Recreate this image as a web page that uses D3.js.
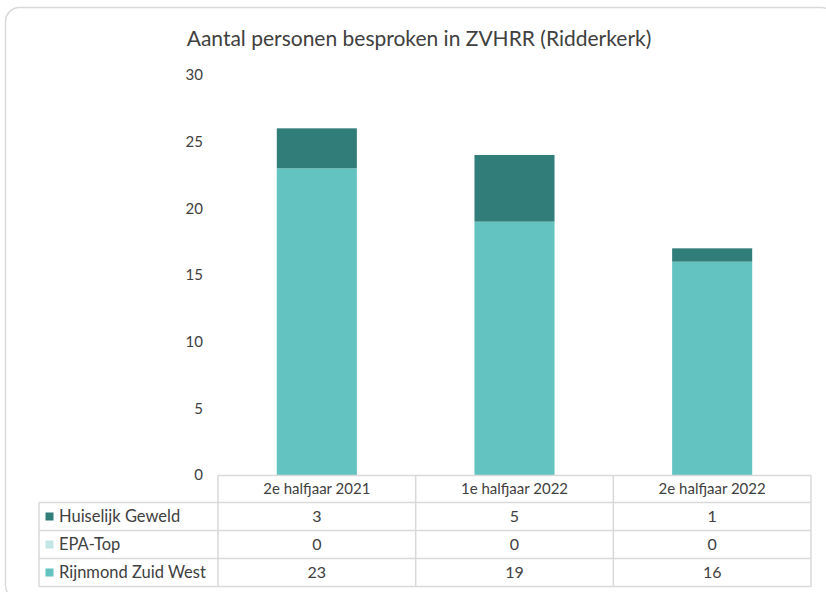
<!DOCTYPE html>
<html>
<head>
<meta charset="utf-8">
<script src="https://cdn.jsdelivr.net/npm/d3@7"></script>
<style>
  body { margin: 0; background: #fff; }
  text { font-family: Lato, "Open Sans", sans-serif; fill: #404040; }
</style>
</head>
<body>
<div id="chart"></div>
<script>
var categories = ["2e halfjaar 2021", "1e halfjaar 2022", "2e halfjaar 2022"]
var seriesNames = ["Huiselijk Geweld", "EPA-Top", "Rijnmond Zuid West"]
var huiselijkGeweld = [3, 5, 1]
var epaTop = [0, 0, 0]
var rijnmondZuidWest = [23, 19, 16]
var yTicks = [0, 5, 10, 15, 20, 25, 30]

var colors = {
  "Huiselijk Geweld": "#317d7a",
  "EPA-Top": "#c3e7e6",
  "Rijnmond Zuid West": "#63c3c0"
}

var w = 826
var h = 592
var margin = {top: 75, left: 218, right: 15}
var plotBottom = 475
var labelLeft = 39
var headerH = 27
var rowH = 28

// table of rows built from the arrays
var data = categories.map(function(c, i) {
  return {
    cat: c,
    "Rijnmond Zuid West": rijnmondZuidWest[i],
    "EPA-Top": epaTop[i],
    "Huiselijk Geweld": huiselijkGeweld[i]
  }
})

var stack = d3.stack().keys(["Rijnmond Zuid West", "EPA-Top", "Huiselijk Geweld"])
var series = stack(data)

var xScale = d3.scaleBand().domain(categories).range([margin.left, 811])
var yScale = d3.scaleLinear().domain([0, 30]).range([plotBottom, plotBottom - 400])
var barW = xScale.bandwidth() * 0.405

var svg = d3.select("#chart").append("svg")
  .attr("width", w)
  .attr("height", h)

svg.append("rect")
  .attr("x", 5.5)
  .attr("y", 7.5)
  .attr("width", 830)
  .attr("height", 592)
  .attr("rx", 14)
  .attr("fill", "#fff")
  .attr("stroke", "#d9d9d9")
  .attr("stroke-width", 1.5)

svg.append("text")
  .attr("x", 419)
  .attr("y", 46)
  .attr("text-anchor", "middle")
  .style("font-size", "21px")
  .text("Aantal personen besproken in ZVHRR (Ridderkerk)")

// y axis labels, no line
var yAxis = d3.axisLeft(yScale).tickValues(yTicks).tickSize(0).tickPadding(0)
var yg = svg.append("g")
  .attr("transform", "translate(203,0)")
  .call(yAxis)
yg.select(".domain").remove()
yg.selectAll("text")
  .attr("fill", "#404040")
  .style("font-size", "15px")
  .style("font-family", "Lato, sans-serif")

// bars
svg.append("g").selectAll("g")
  .data(series)
  .join("g")
  .attr("fill", d => colors[d.key])
  .selectAll("rect")
  .data(d => d)
  .join("rect")
  .attr("x", d => xScale(d.data.cat) + (xScale.bandwidth() - barW) / 2)
  .attr("y", d => yScale(d[1]))
  .attr("width", barW)
  .attr("height", d => yScale(d[0]) - yScale(d[1]))

// data table
var table = svg.append("g")
var lineColor = "#d9d9d9"
var tableTop = plotBottom + 0.5
var rowsTop = tableTop + headerH
var tableBottom = rowsTop + rowH * seriesNames.length

// horizontal lines
table.append("line")
  .attr("x1", margin.left).attr("x2", 811)
  .attr("y1", tableTop).attr("y2", tableTop)
  .attr("stroke", lineColor).attr("stroke-width", 1.5)
seriesNames.concat([null]).forEach(function(s, i) {
  var y = rowsTop + i * rowH
  table.append("line")
    .attr("x1", labelLeft).attr("x2", 811)
    .attr("y1", y).attr("y2", y)
    .attr("stroke", lineColor).attr("stroke-width", 1.5)
})

// vertical lines
table.append("line")
  .attr("x1", labelLeft).attr("x2", labelLeft)
  .attr("y1", rowsTop).attr("y2", tableBottom)
  .attr("stroke", lineColor).attr("stroke-width", 1.5)
categories.forEach(function(c) {
  table.append("line")
    .attr("x1", xScale(c)).attr("x2", xScale(c))
    .attr("y1", tableTop).attr("y2", tableBottom)
    .attr("stroke", lineColor).attr("stroke-width", 1.5)
})
table.append("line")
  .attr("x1", 811).attr("x2", 811)
  .attr("y1", tableTop).attr("y2", tableBottom)
  .attr("stroke", lineColor).attr("stroke-width", 1.5)

// header
table.selectAll(".head")
  .data(categories)
  .join("text")
  .attr("class", "head")
  .attr("x", d => xScale(d) + xScale.bandwidth() / 2)
  .attr("y", tableTop + headerH / 2)
  .attr("dy", "0.35em")
  .attr("text-anchor", "middle")
  .style("font-size", "15px")
  .text(d => d)

var values = {
  "Huiselijk Geweld": huiselijkGeweld,
  "EPA-Top": epaTop,
  "Rijnmond Zuid West": rijnmondZuidWest
}

seriesNames.forEach(function(s, i) {
  var cy = rowsTop + i * rowH + rowH / 2
  table.append("rect")
    .attr("x", 45.5)
    .attr("y", cy - 4)
    .attr("width", 8)
    .attr("height", 8)
    .attr("fill", colors[s])
  table.append("text")
    .attr("x", 59)
    .attr("y", cy)
    .attr("dy", "0.35em")
    .style("font-size", "16.5px")
    .text(s)
  table.selectAll(".v" + i)
    .data(values[s])
    .join("text")
    .attr("x", (d, j) => xScale(categories[j]) + xScale.bandwidth() / 2)
    .attr("y", cy)
    .attr("dy", "0.35em")
    .attr("text-anchor", "middle")
    .style("font-size", "16px")
    .text(d => d)
})
</script>
</body>
</html>
